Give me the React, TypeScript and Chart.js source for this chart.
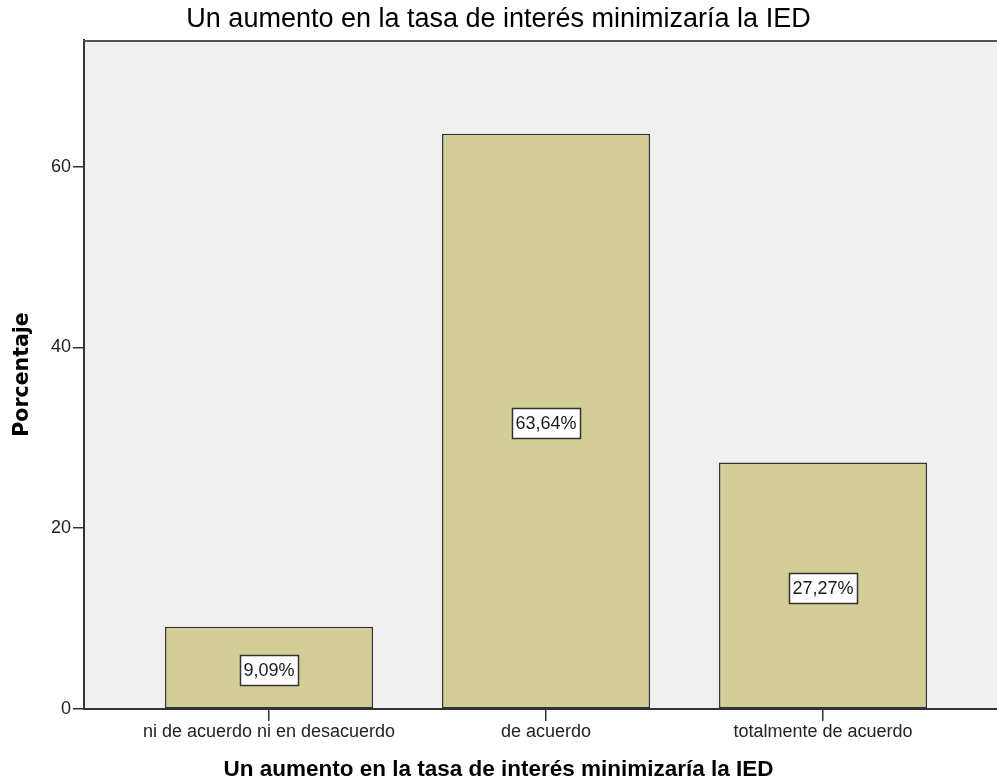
import React, { useEffect, useRef } from 'react';
import { Chart, registerables } from 'chart.js';

Chart.register(...registerables);

const categories: string[] = ['ni de acuerdo ni en desacuerdo', 'de acuerdo', 'totalmente de acuerdo'];
const percentages: number[] = [9.09, 63.64, 27.27];
const yTickValues: number[] = [0, 20, 40, 60];
const chartTitle = 'Un aumento en la tasa de interés minimizaría la IED';
const xAxisTitle = 'Un aumento en la tasa de interés minimizaría la IED';
const yAxisTitle = 'Porcentaje';

const SANS = '"Liberation Sans", Arial, sans-serif';
const BOLD_SANS = '"DejaVu Sans", Verdana, sans-serif';

const plotBackground = {
  id: 'plotBackground',
  beforeDraw(chart: any) {
    const { ctx, chartArea } = chart;
    ctx.save();
    ctx.fillStyle = '#f0f0f0';
    ctx.fillRect(chartArea.left, chartArea.top, chartArea.right - chartArea.left, chartArea.bottom - chartArea.top);
    ctx.restore();
  },
  afterDraw(chart: any) {
    const { ctx, chartArea } = chart;
    ctx.save();
    ctx.strokeStyle = '#555555';
    ctx.lineWidth = 2;
    ctx.beginPath();
    ctx.moveTo(chartArea.left - 1, chartArea.top + 1);
    ctx.lineTo(chartArea.right, chartArea.top + 1);
    ctx.stroke();
    ctx.restore();
  },
};

const valueBoxes = {
  id: 'valueBoxes',
  afterDatasetsDraw(chart: any) {
    const ctx = chart.ctx;
    const meta = chart.getDatasetMeta(0);
    ctx.save();
    ctx.font = '18px ' + SANS;
    ctx.textAlign = 'center';
    ctx.textBaseline = 'middle';
    meta.data.forEach((bar: any, i: number) => {
      const { x, y, base } = bar.getProps(['x', 'y', 'base'], true);
      const text = percentages[i].toFixed(2).replace('.', ',') + '%';
      const w = Math.round(ctx.measureText(text).width + 7);
      const h = 30;
      const cy = (y + base) / 2 + 2.5;
      const left = Math.round(x - w / 2) + 0.5;
      const top = Math.round(cy - h / 2) + 0.5;
      ctx.fillStyle = '#ffffff';
      ctx.fillRect(left, top, w, h);
      ctx.lineWidth = 1.5;
      ctx.strokeStyle = '#333333';
      ctx.strokeRect(left, top, w, h);
      ctx.fillStyle = '#1a1a1a';
      ctx.fillText(text, x, cy + 1);
    });
    ctx.restore();
  },
};

export default function App() {
  const canvasRef = useRef<HTMLCanvasElement | null>(null);

  useEffect(() => {
    if (!canvasRef.current) return;
    const chart = new Chart(canvasRef.current, {
      type: 'bar',
      data: {
        datasets: [
          {
            label: yAxisTitle,
            data: percentages.map((v, i) => ({ x: i, y: v })),
            backgroundColor: '#d3ce97',
            borderColor: '#333333',
            borderWidth: 1.5,
            borderSkipped: false,
            categoryPercentage: 1,
            barPercentage: 0.751,
          },
        ],
      },
      options: {
        responsive: false,
        animation: false,
        devicePixelRatio: 1,
        layout: { padding: 0 },
        plugins: {
          legend: { display: false },
          tooltip: { enabled: false },
          title: {
            display: true,
            text: chartTitle,
            color: '#000000',
            font: { family: SANS, size: 27, weight: 'normal', lineHeight: 1.2 },
            padding: { top: 3.8, bottom: 3.8 },
          },
          subtitle: {
            display: true,
            position: 'bottom',
            text: xAxisTitle,
            color: '#000000',
            font: { family: SANS, size: 22.5, weight: 'bold', lineHeight: 1.2 },
            padding: { top: 0, bottom: 0.5 },
          },
        },
        scales: {
          x: {
            type: 'linear',
            min: -0.668,
            max: 2.628,
            offset: false,
            afterBuildTicks: (scale: any) => {
              scale.ticks = categories.map((_, i) => ({ value: i }));
            },
            afterFit: (scale: any) => {
              scale.height = 47.5;
            },
            ticks: {
              autoSkip: false,
              maxRotation: 0,
              minRotation: 0,
              padding: 0,
              color: '#222222',
              font: { family: SANS, size: 18 },
              callback: (_v: any, index: number) => categories[index],
            },
            grid: {
              offset: false,
              drawOnChartArea: false,
              drawTicks: true,
              tickLength: 12,
              color: '#333333',
              lineWidth: 1.5,
            },
            border: { display: true, color: '#333333', width: 2 },
          },
          y: {
            type: 'linear',
            min: 0,
            max: 74,
            afterBuildTicks: (scale: any) => {
              scale.ticks = yTickValues.map((v) => ({ value: v }));
            },
            afterFit: (scale: any) => {
              scale.width = 84;
            },
            ticks: {
              padding: 2,
              color: '#222222',
              font: { family: SANS, size: 18 },
            },
            grid: {
              drawOnChartArea: false,
              drawTicks: true,
              tickLength: 11,
              color: '#333333',
              lineWidth: 1.5,
            },
            border: { display: true, color: '#333333', width: 2 },
            title: {
              display: true,
              text: yAxisTitle,
              color: '#000000',
              font: { family: BOLD_SANS, size: 20.5, weight: 'bold', lineHeight: 1.2 },
              padding: { top: 10.5, bottom: 0 },
            },
          },
        },
      },
      plugins: [plotBackground, valueBoxes],
    } as any);
    return () => chart.destroy();
  }, []);

  return (
    <div style={{ position: 'absolute', left: 0, top: 0, width: 997, height: 784, background: '#ffffff' }}>
      <canvas ref={canvasRef} width={997} height={784} style={{ display: 'block', width: 997, height: 784 }} />
    </div>
  );
}
